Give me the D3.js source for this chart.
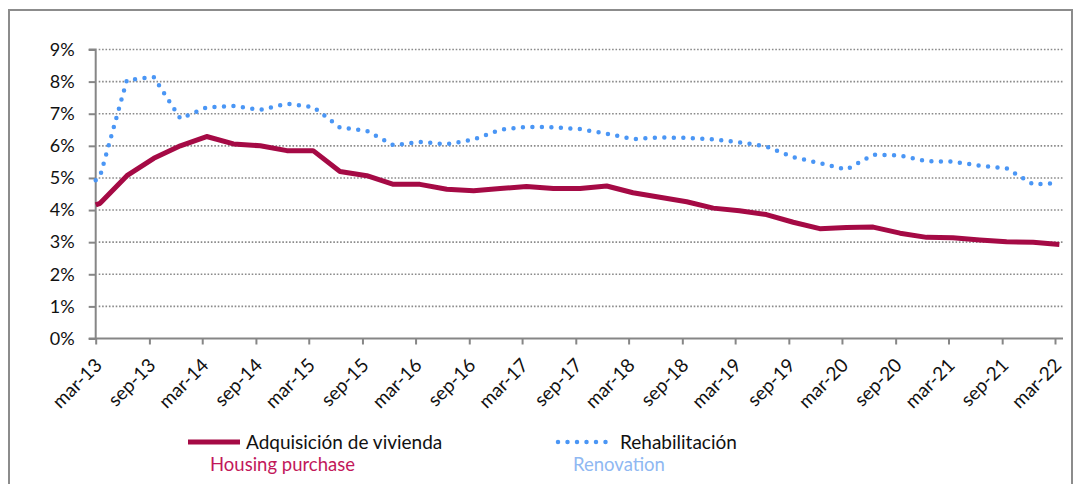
<!DOCTYPE html>
<html>
<head>
<meta charset="utf-8">
<script src="https://cdn.jsdelivr.net/npm/d3@7"></script>
<style>
  html, body { margin: 0; padding: 0; background: #fff; }
  svg { display: block; }
  text { font-family: Lato, "Open Sans", sans-serif; }
</style>
</head>
<body>
<svg id="chart" width="1080" height="484"></svg>
<script>
// ---- data ----
const dates = ["2013-03-01","2013-03-16","2013-06-16","2013-09-16","2013-12-16",
  "2014-03-16","2014-06-16","2014-09-16","2014-12-16",
  "2015-03-16","2015-06-16","2015-09-16","2015-12-16",
  "2016-03-16","2016-06-16","2016-09-16","2016-12-16",
  "2017-03-16","2017-06-16","2017-09-16","2017-12-16",
  "2018-03-16","2018-06-16","2018-09-16","2018-12-16",
  "2019-03-16","2019-06-16","2019-09-16","2019-12-16",
  "2020-03-16","2020-06-16","2020-09-16","2020-12-16",
  "2021-03-16","2021-06-16","2021-09-16","2021-12-16",
  "2022-03-16"];
const housingPurchase = [4.16, 4.21, 5.07, 5.61, 6.00, 6.29, 6.06, 6.00, 5.85, 5.85, 5.20, 5.07,
  4.80, 4.80, 4.65, 4.60, 4.67, 4.73, 4.67, 4.67, 4.75, 4.54, 4.40, 4.26, 4.06, 3.98, 3.86,
  3.62, 3.42, 3.46, 3.47, 3.28, 3.15, 3.14, 3.07, 3.01, 3.00, 2.93];
const renovation = [4.93, 5.05, 8.05, 8.14, 6.85, 7.20, 7.24, 7.12, 7.31, 7.21, 6.57, 6.47,
  6.02, 6.12, 6.05, 6.20, 6.50, 6.59, 6.58, 6.52, 6.38, 6.21, 6.26, 6.25, 6.20, 6.11, 5.98,
  5.65, 5.46, 5.26, 5.72, 5.70, 5.52, 5.51, 5.38, 5.30, 4.80, 4.84];
const tickDates = ["2013-03-01","2013-09-01","2014-03-01","2014-09-01","2015-03-01","2015-09-01",
  "2016-03-01","2016-09-01","2017-03-01","2017-09-01","2018-03-01","2018-09-01","2019-03-01",
  "2019-09-01","2020-03-01","2020-09-01","2021-03-01","2021-09-01","2022-03-01"];
const tickLabels = ["mar-13","sep-13","mar-14","sep-14","mar-15","sep-15","mar-16","sep-16",
  "mar-17","sep-17","mar-18","sep-18","mar-19","sep-19","mar-20","sep-20","mar-21","sep-21","mar-22"];
const yTicks = [0,1,2,3,4,5,6,7,8,9];
const seriesNames = ["Adquisición de vivienda", "Rehabilitación"];
const seriesNamesEn = ["Housing purchase", "Renovation"];

// ---- setup ----
const parse = d3.timeParse("%Y-%m-%d");
const svg = d3.select("#chart");
const plotLeft = 95.7, plotRight = 1063, plotTop = 49.5, plotBottom = 338.5;

const x = d3.scaleTime()
  .domain([parse(tickDates[0]), parse(tickDates[tickDates.length - 1])])
  .range([plotLeft, 1055]);
const y = d3.scaleLinear().domain([0, 9]).range([plotBottom, plotTop]);

// chart border
svg.append("rect").attr("x", 9).attr("y", 10).attr("width", 1063).attr("height", 490)
  .attr("fill", "none").attr("stroke", "#8c8c8c").attr("stroke-width", 2);

// gridlines
svg.append("g").selectAll("line").data(yTicks.filter(d => d > 0)).join("line")
  .attr("x1", plotLeft + 3).attr("x2", plotRight)
  .attr("y1", d => y(d)).attr("y2", d => y(d))
  .attr("stroke", "#8a8a8a").attr("stroke-width", 1.6).attr("stroke-dasharray", "1.6,1.8");

// y axis
const yAxis = d3.axisLeft(y).tickValues(yTicks).tickFormat(d => d + "%").tickSize(7).tickPadding(14);
const gy = svg.append("g").attr("transform", `translate(${plotLeft},0)`).call(yAxis);
gy.select(".domain").attr("stroke", "#868686").attr("stroke-width", 2).attr("d", `M-7,${plotTop}H0V${plotBottom}`);
gy.selectAll(".tick line").attr("stroke", "#868686").attr("stroke-width", 2);
gy.selectAll(".tick text").attr("font-size", 18).attr("fill", "#111")
  .attr("font-family", "Lato, sans-serif");

// x axis
const xAxis = d3.axisBottom(x).tickValues(tickDates.map(parse))
  .tickFormat((d, i) => tickLabels[i]).tickSize(6);
const gx = svg.append("g").attr("transform", `translate(0,${plotBottom})`).call(xAxis);
gx.select(".domain").attr("stroke", "#868686").attr("stroke-width", 2)
  .attr("d", `M${plotLeft - 7},0H${plotRight}`);
gx.selectAll(".tick line").attr("stroke", "#868686").attr("stroke-width", 2);
gx.selectAll(".tick text")
  .attr("font-size", 19).attr("fill", "#111").attr("font-family", "Lato, sans-serif")
  .attr("text-anchor", "end").attr("dy", null).attr("y", null)
  .attr("transform", "translate(7,28) rotate(-45)");

// lines
const pts = (vals) => vals.map((v, i) => [parse(dates[i]), v]);
const line = d3.line().x(d => x(d[0])).y(d => y(d[1]));

svg.append("path").datum(pts(renovation))
  .attr("d", line).attr("fill", "none")
  .attr("stroke", "#4a96f5").attr("stroke-width", 4.5)
  .attr("stroke-linecap", "round").attr("stroke-dasharray", "0,9.5");

svg.append("path").datum(pts(housingPurchase))
  .attr("d", line).attr("fill", "none")
  .attr("stroke", "#a50a45").attr("stroke-width", 5).attr("stroke-linejoin", "round");

// legend
const leg = svg.append("g");
leg.append("line").attr("x1", 188).attr("x2", 240).attr("y1", 442).attr("y2", 442)
  .attr("stroke", "#a50a45").attr("stroke-width", 5);
leg.append("text").attr("x", 246).attr("y", 449).attr("font-size", 19).attr("fill", "#111")
  .text(seriesNames[0]);
leg.append("text").attr("x", 210).attr("y", 471).attr("font-size", 18.5).attr("fill", "#c2185b")
  .text(seriesNamesEn[0]);

leg.append("line").attr("x1", 558).attr("x2", 610).attr("y1", 442).attr("y2", 442)
  .attr("stroke", "#4a96f5").attr("stroke-width", 4.5)
  .attr("stroke-linecap", "round").attr("stroke-dasharray", "0,9.5");
leg.append("text").attr("x", 620).attr("y", 449).attr("font-size", 19).attr("fill", "#111")
  .text(seriesNames[1]);
leg.append("text").attr("x", 573).attr("y", 471).attr("font-size", 18.5).attr("fill", "#8fb8f2")
  .text(seriesNamesEn[1]);
</script>
</body>
</html>
